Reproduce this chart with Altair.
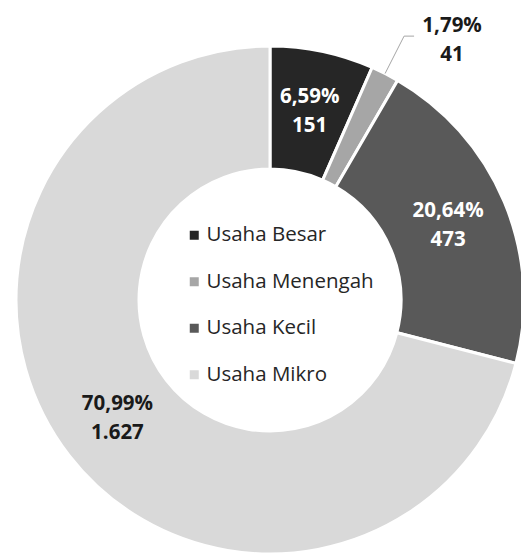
import altair as alt
import pandas as pd

categories = ["Usaha Besar", "Usaha Menengah", "Usaha Kecil", "Usaha Mikro"]
counts = [151, 41, 473, 1627]
colors = ["#262626", "#a6a6a6", "#595959", "#d9d9d9"]

df = pd.DataFrame({"kategori": categories, "jumlah": counts, "urut": list(range(len(categories)))})

CX, CY = 270, 300
R_OUT, R_IN = 254, 131
R_LBL = 193
R_ELBOW = 296
FONT = "Open Sans"
LINE_H = 29

base = (
    alt.Chart(df)
    .transform_joinaggregate(total="sum(jumlah)")
    .transform_window(cum="sum(jumlah)", sort=[alt.SortField("urut")], frame=[None, 0])
    .transform_calculate(
        pct_txt="replace(format(datum.jumlah / datum.total * 100, '.2f'), '.', ',') + '%'",
        val_txt="replace(format(datum.jumlah, ','), ',', '.')",
        mid="(datum.cum - datum.jumlah / 2) / datum.total * 2 * PI",
    )
    .transform_calculate(
        label="datum.pct_txt + '\\n' + datum.val_txt",
        inner_label="datum.kategori == 'Usaha Menengah' ? '' : datum.pct_txt + '\\n' + datum.val_txt",
        x1=f"{CX} + {R_OUT} * sin(datum.mid)",
        y1=f"{CY} - {R_OUT} * cos(datum.mid)",
        xe=f"{CX} + {R_ELBOW} * sin(datum.mid)",
        ye=f"{CY} - {R_ELBOW} * cos(datum.mid)",
    )
    .transform_calculate(xh="datum.xe + 10")
)

theta = alt.Theta("jumlah:Q", stack=True)
order = alt.Order("urut:O")

arcs = base.mark_arc(outerRadius=R_OUT, innerRadius=R_IN, stroke="white", strokeWidth=3).encode(
    theta=theta,
    order=order,
    x=alt.value(CX),
    y=alt.value(CY),
    color=alt.Color(
        "kategori:N",
        scale=alt.Scale(domain=categories, range=colors),
        sort=categories,
        legend=alt.Legend(
            orient="none",
            legendX=184,
            legendY=225,
            title=None,
            symbolType="square",
            symbolSize=81,
            symbolStrokeWidth=0,
            labelFontSize=20.5,
            labelFont=FONT,
            labelColor="#262626",
            labelLimit=400,
            rowPadding=25.5,
            labelOffset=2,
            padding=0,
        ),
    ),
)

labels = base.mark_text(
    radius=R_LBL, font=FONT, fontSize=20.5, fontWeight="bold", lineBreak="\n", lineHeight=LINE_H,
    align="center", baseline="middle", dy=-LINE_H / 2,
).encode(
    theta=theta,
    order=order,
    x=alt.value(CX),
    y=alt.value(CY),
    text="inner_label:N",
    color=alt.condition(
        alt.FieldOneOfPredicate(field="kategori", oneOf=["Usaha Besar", "Usaha Kecil"]),
        alt.value("white"),
        alt.value("#1a1a1a"),
    ),
)

small = base.transform_filter(alt.datum.kategori == "Usaha Menengah")

leader1 = small.mark_rule(color="#a6a6a6", strokeWidth=1).encode(
    x=alt.X("x1:Q", scale=None), y=alt.Y("y1:Q", scale=None),
    x2="xe:Q", y2="ye:Q",
)
leader2 = small.mark_rule(color="#a6a6a6", strokeWidth=1).encode(
    x=alt.X("xe:Q", scale=None), y=alt.Y("ye:Q", scale=None),
    x2="xh:Q", y2="ye:Q",
)
small_text = small.mark_text(
    font=FONT, fontSize=20.5, fontWeight="bold", lineBreak="\n", lineHeight=LINE_H,
    align="center", baseline="middle", dx=48, dy=4 - LINE_H / 2, color="#1a1a1a",
).encode(
    x=alt.X("xe:Q", scale=None), y=alt.Y("ye:Q", scale=None), text="label:N",
)

chart = (
    alt.layer(arcs, labels, leader1, leader2, small_text)
    .properties(width=521, height=555, padding=0, autosize=alt.AutoSizeParams(type="none"),
                background="white")
    .configure_view(stroke=None)
)

chart.save("out.html", embed_options={"renderer": "svg", "actions": False})
